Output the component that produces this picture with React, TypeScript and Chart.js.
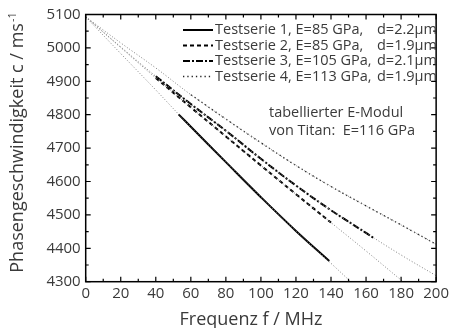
import React, { useEffect, useRef } from "react";
import { Chart, registerables } from "chart.js";

Chart.register(...registerables);

// Theoretical dispersion curves (thin grey dotted)
const theoFreq = [0, 20, 40, 60, 80, 100, 120, 140, 160, 180, 200];
const theo1 = [5093, 4983, 4874, 4763, 4658, 4553, 4452, 4355, 4258, 4165, 4075];
const theo2 = [5093, 5001, 4910, 4822, 4735, 4648, 4562, 4477, 4392, 4305, 4220];
const theo3 = [5093, 5003, 4915, 4832, 4752, 4668, 4588, 4514, 4446, 4380, 4318];
const theo4 = [5093, 5015, 4940, 4860, 4787, 4716, 4648, 4585, 4527, 4470, 4412];

// Measured series
const freq1 = [53, 60, 80, 100, 120, 139];
const meas1 = [4801, 4764, 4658, 4553, 4452, 4362];
const freq2 = [40, 60, 80, 100, 120, 140];
const meas2 = [4910, 4822, 4735, 4648, 4562, 4477];
const freq3 = [40, 60, 80, 100, 120, 140, 160, 164];
const meas3 = [4915, 4832, 4752, 4668, 4588, 4514, 4446, 4432];
const freq4 = [60, 80, 100, 120, 140, 160, 180, 200];
const meas4 = [4860, 4787, 4716, 4648, 4585, 4527, 4470, 4412];

const legendMain = [
  "Testserie 1, E=85 GPa,",
  "Testserie 2, E=85 GPa,",
  "Testserie 3, E=105 GPa,",
  "Testserie 4, E=113 GPa,",
];
const legendD = ["d=2.2µm", "d=1.9µm", "d=2.1µm", "d=1.9µm"];
const noteLines = ["tabellierter E-Modul", "von Titan:  E=116 GPa"];

const xTitle = "Frequenz f / MHz";
const yTitle = "Phasengeschwindigkeit c / ms";
const yTitleSup = "-1";

const FONT = "'Open Sans', 'Noto Sans', sans-serif";
const TEXT = "#3a3a3a";

const pts = (xs: number[], ys: number[]) => xs.map((x, i) => ({ x, y: ys[i] }));

const framePlugin = {
  id: "frame",
  afterDatasetsDraw(chart: any) {
    const { ctx, chartArea: a, scales } = chart;
    const xs = scales.x;
    const ys = scales.y;
    ctx.save();
    ctx.strokeStyle = "#000";
    ctx.lineWidth = 1.5;
    ctx.strokeRect(a.left, a.top, a.right - a.left, a.bottom - a.top);
    ctx.lineWidth = 1.2;
    ctx.beginPath();
    for (let v = 0; v <= 200; v += 10) {
      const px = xs.getPixelForValue(v);
      const len = v % 20 === 0 ? 5 : 3;
      ctx.moveTo(px, a.bottom);
      ctx.lineTo(px, a.bottom - len);
      ctx.moveTo(px, a.top);
      ctx.lineTo(px, a.top + len);
    }
    for (let v = 4300; v <= 5100; v += 50) {
      const py = ys.getPixelForValue(v);
      const len = v % 100 === 0 ? 5 : 3;
      ctx.moveTo(a.left, py);
      ctx.lineTo(a.left + len, py);
      ctx.moveTo(a.right, py);
      ctx.lineTo(a.right - len, py);
    }
    ctx.stroke();

    // Legend
    const measured = chart.data.datasets.slice(4);
    ctx.font = `14.5px ${FONT}`;
    ctx.textBaseline = "middle";
    const rowY = [30, 45.5, 61, 76.5];
    measured.forEach((ds: any, i: number) => {
      const y = rowY[i];
      ctx.save();
      ctx.strokeStyle = ds.borderColor;
      ctx.lineWidth = ds.borderWidth;
      ctx.setLineDash(ds.borderDash || []);
      ctx.beginPath();
      ctx.moveTo(183, y);
      ctx.lineTo(213, y);
      ctx.stroke();
      ctx.restore();
      ctx.fillStyle = TEXT;
      ctx.textAlign = "left";
      ctx.fillText(legendMain[i], 215, y);
      ctx.fillText(legendD[i], 377, y);
    });

    // Note
    ctx.font = `14.5px ${FONT}`;
    ctx.fillText(noteLines[0], 269, 113);
    ctx.fillText(noteLines[1], 269, 131);

    // Axis titles
    ctx.font = `18px ${FONT}`;
    ctx.textAlign = "center";
    ctx.textBaseline = "alphabetic";
    ctx.fillText(xTitle, 251, 325);

    ctx.save();
    ctx.translate(23, 143);
    ctx.rotate(-Math.PI / 2);
    ctx.font = `18px ${FONT}`;
    const w1 = ctx.measureText(yTitle).width;
    ctx.font = `11px ${FONT}`;
    const w2 = ctx.measureText(yTitleSup).width;
    const x0 = -(w1 + w2) / 2;
    ctx.textAlign = "left";
    ctx.font = `18px ${FONT}`;
    ctx.fillText(yTitle, x0, 0);
    ctx.font = `11px ${FONT}`;
    ctx.fillText(yTitleSup, x0 + w1 + 1, -7);
    ctx.restore();

    ctx.restore();
  },
};

export default function App() {
  const ref = useRef<HTMLCanvasElement | null>(null);
  useEffect(() => {
    document.body.style.margin = "0";
    const theoStyle = {
      borderColor: "#808080",
      borderWidth: 1,
      borderDash: [1, 2],
      pointRadius: 0,
      fill: false,
      tension: 0.4,
    };
    const chart = new Chart(ref.current as HTMLCanvasElement, {
      type: "line",
      data: {
        datasets: [
          { label: "t1", data: pts(theoFreq, theo1), ...theoStyle },
          { label: "t2", data: pts(theoFreq, theo2), ...theoStyle },
          { label: "t3", data: pts(theoFreq, theo3), ...theoStyle },
          { label: "t4", data: pts(theoFreq, theo4), ...theoStyle },
          { label: "Testserie 1", data: pts(freq1, meas1), borderColor: "#000", borderWidth: 2, borderDash: [], pointRadius: 0, tension: 0.4 },
          { label: "Testserie 2", data: pts(freq2, meas2), borderColor: "#000", borderWidth: 2, borderDash: [4, 3], pointRadius: 0, tension: 0.4 },
          { label: "Testserie 3", data: pts(freq3, meas3), borderColor: "#000", borderWidth: 2, borderDash: [7, 2, 2, 2], pointRadius: 0, tension: 0.4 },
          { label: "Testserie 4", data: pts(freq4, meas4), borderColor: "#222", borderWidth: 1.3, borderDash: [1.3, 3], pointRadius: 0, tension: 0.4 },
        ],
      },
      options: {
        responsive: false,
        animation: false,
        devicePixelRatio: 1,
        layout: { padding: { top: 14.5, right: 10.3, left: 0, bottom: 0 } },
        plugins: { legend: { display: false }, tooltip: { enabled: false } },
        scales: {
          x: {
            type: "linear",
            min: 0,
            max: 200,
            ticks: { stepSize: 20, color: TEXT, font: { family: FONT, size: 15 }, padding: 3, maxRotation: 0, callback: (v: any) => String(v) },
            grid: { display: false, drawTicks: false },
            border: { display: false },
            afterFit: (s: any) => { s.height = 46.3; },
          },
          y: {
            type: "linear",
            min: 4300,
            max: 5100,
            ticks: { stepSize: 100, color: TEXT, font: { family: FONT, size: 15 }, padding: 5, callback: (v: any) => String(v) },
            grid: { display: false, drawTicks: false },
            border: { display: false },
            afterFit: (s: any) => { s.width = 85.7; },
          },
        },
      },
      plugins: [framePlugin],
    } as any);
    return () => chart.destroy();
  }, []);
  return (
    <div style={{ position: "absolute", left: 0, top: 0, width: 452, height: 328 }}>
      <canvas ref={ref} width={452} height={328} />
    </div>
  );
}
